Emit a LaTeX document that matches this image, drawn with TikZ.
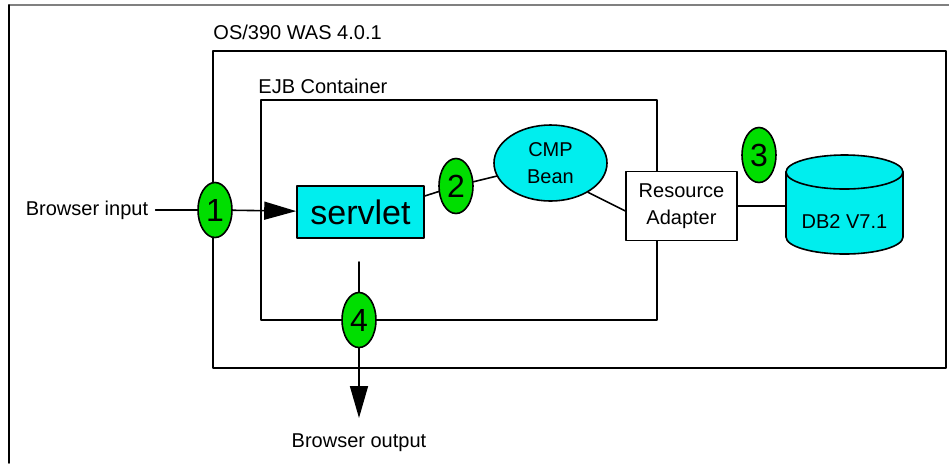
\documentclass[tikz,border=0pt]{standalone}
\usepackage{fontspec}
\setmainfont{Liberation Sans}
\usetikzlibrary{arrows.meta}
\usetikzlibrary{positioning}
\usetikzlibrary{shapes.geometric}
\definecolor{beancyan}{RGB}{0,238,238}
\definecolor{stepgreen}{RGB}{0,222,0}
\tikzset{
  stepmark/.style={ellipse,draw,fill=stepgreen,minimum width=17pt,minimum height=27.5pt,inner sep=0pt,font=\fontsize{16}{16}\selectfont},
  txt/.style={font=\fontsize{10}{13.5}\selectfont,align=center},
  bigtip/.style={-{Triangle[length=16pt,width=9pt]}}
}
\begin{document}
\begin{tikzpicture}[line cap=round,line join=round,x=0.5pt,y=-0.5pt,line width=0.8pt]
\useasboundingbox (0,0) rectangle (949,463);
% page frame
\draw[color=gray,line width=1pt] (9,5) -- (949,5);
\draw[color=black] (9,5) -- (9,463);
% containers
\draw (213,51) rectangle (946,368);
\node[txt,anchor=west] (oslabel) at (206,32) {OS/390 WAS 4.0.1};
\draw (261,100) rectangle (657,320);
\node[txt,anchor=west] (ejblabel) at (251,86) {EJB Container};
% components
\node[draw,fill=beancyan,minimum width=63.5pt,minimum height=26pt,font=\fontsize{17}{17}\selectfont] (servlet) at (360.5,212) {servlet};
\node[ellipse,draw,fill=beancyan,txt,minimum width=56.5pt,minimum height=38pt,inner sep=0pt] (cmp) at (550.5,163) {CMP\\Bean};
\node[draw,fill=white,txt,minimum width=55.5pt,minimum height=34.5pt] (ra) at (681.5,206) {Resource\\Adapter};
% DB2 drum
\filldraw[fill=beancyan] (786,172) -- (786,237) arc[start angle=180,end angle=0,x radius=58.5,y radius=17] -- (903,172) -- cycle;
\filldraw[fill=beancyan] (844.5,172) ellipse[x radius=58.5,y radius=17];
\node[txt,minimum width=58.5pt] (db2) at (844.5,222) {DB2 V7.1};
% browser ends
\node[txt] (inp) at (87,210) {Browser input};
\node[txt] (outp) at (359,443) {Browser output};
\coordinate (otop) at (359,262);
\coordinate (otip) at (359,418);
% numbered steps
\foreach \n/\x/\y in {1/215/210,2/456/186,3/759/155,4/359/320}
\node[stepmark] (s\n) at (\x,\y) {\n};
% connectors
\draw (inp) -- (s1);
\draw[bigtip] (s1) -- (servlet);
\draw (servlet.14) -- (s2);
\draw (s2) -- (cmp);
\draw (cmp.-38) -- (ra.-175);
\draw (ra.east) -- (ra.east -| db2.west);
\draw (otop) -- (s4);
\draw[bigtip] (s4) -- (otip);
\end{tikzpicture}
\end{document}
